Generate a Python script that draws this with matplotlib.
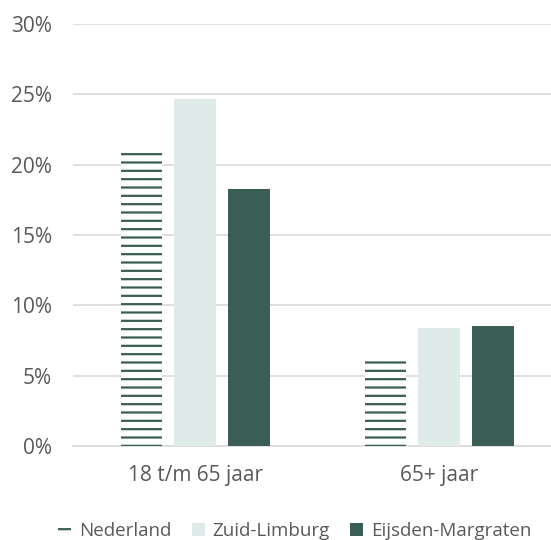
import numpy as np
import matplotlib.pyplot as plt

plt.rcParams['font.family'] = ['Open Sans', 'DejaVu Sans']
plt.rcParams['hatch.linewidth'] = 1.6

categories = ["18 t/m 65 jaar", "65+ jaar"]
series = ["Nederland", "Zuid-Limburg", "Eijsden-Margraten"]
nederland = [21.2, 6.4]
zuid_limburg = [24.7, 8.4]
eijsden = [18.3, 8.5]

dark = "#3A5D55"
light = "#DFEBE9"
grey_text = "#595959"

fig = plt.figure(figsize=(5.51, 5.40), dpi=100)
ax = fig.add_axes([0.1325, 0.174, 0.886, 0.7815])

x = np.arange(len(categories))
w = 0.17
step = 0.22
ax.bar(x - step, nederland, w, color="white", edgecolor=dark, hatch="--",
       linewidth=0, label=series[0], zorder=3)
ax.bar(x, zuid_limburg, w, color=light, linewidth=0, label=series[1], zorder=3)
ax.bar(x + step, eijsden, w, color=dark, linewidth=0, label=series[2], zorder=3)

ax.set_xlim(-0.5, 1.5)
ax.set_ylim(0, 30)
ax.set_yticks(range(0, 31, 5))
ax.set_yticklabels([f"{v}%" for v in range(0, 31, 5)])
ax.set_xticks(x)
ax.set_xticklabels(categories)
ax.yaxis.grid(True, color="#D9D9D9", linewidth=1.2, zorder=0)
for s in ["top", "right", "left"]:
    ax.spines[s].set_visible(False)
ax.spines["bottom"].set_color("#D9D9D9")
ax.spines["bottom"].set_linewidth(1.2)
ax.tick_params(length=0, labelsize=15, colors=grey_text)
ax.tick_params(axis="x", pad=14)
ax.tick_params(axis="y", pad=15)

leg = fig.legend(loc="center", bbox_to_anchor=(0.535, 0.016), ncol=3, frameon=False,
                 fontsize=13.5, handlelength=0.7, handleheight=0.7, handletextpad=0.4,
                 columnspacing=1.1)
for t in leg.get_texts():
    t.set_color(grey_text)

fig.savefig("out.png", dpi=100)
